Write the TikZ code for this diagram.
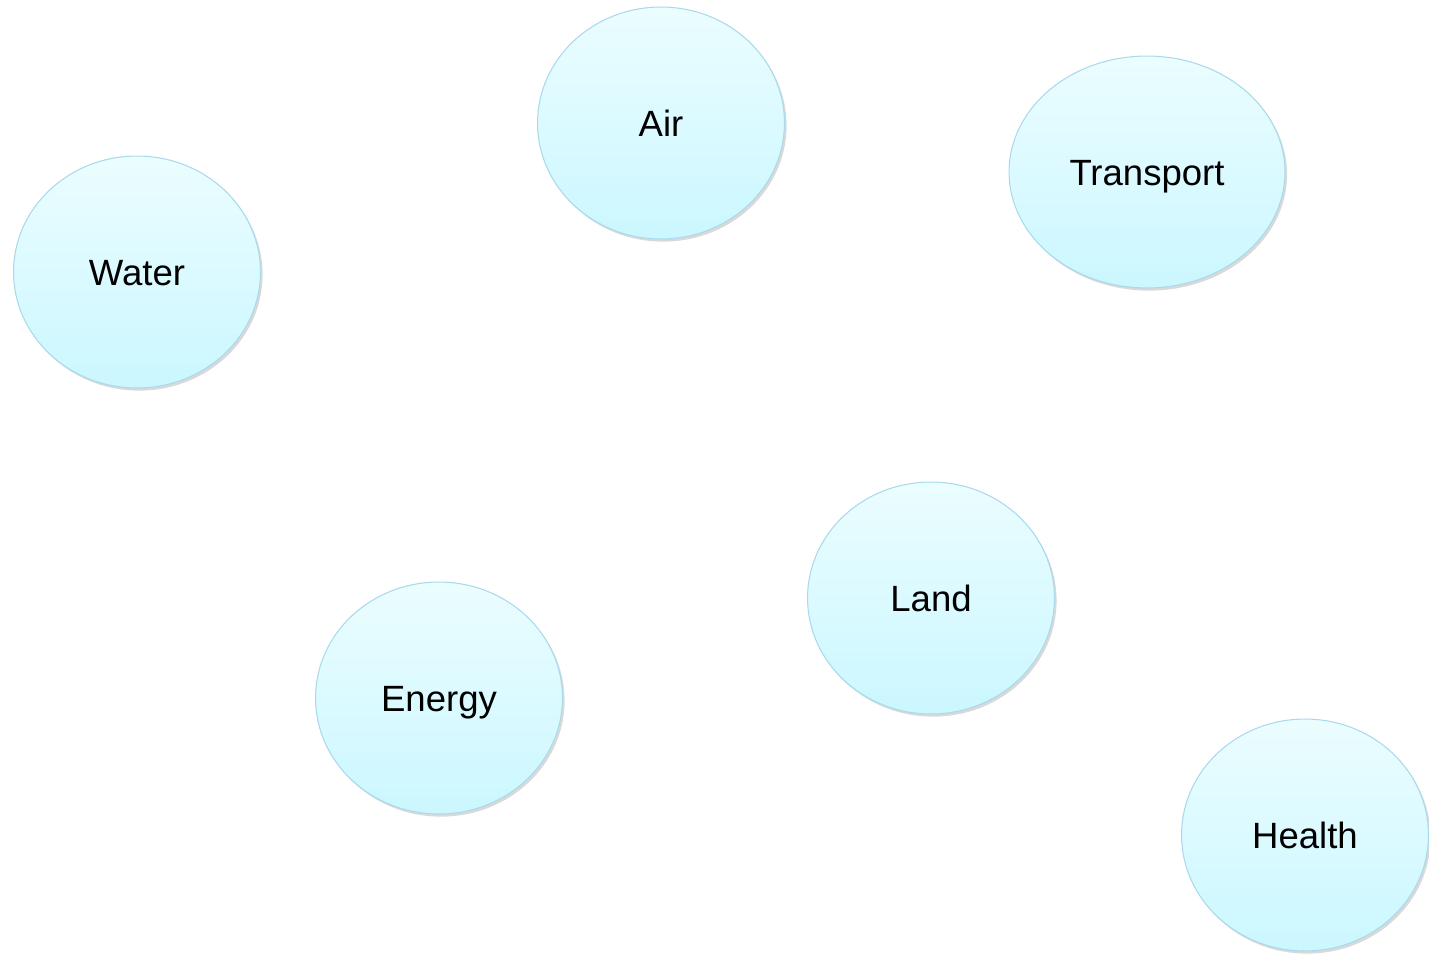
\documentclass[tikz,border=0pt]{standalone}
\usepackage{fontspec}
\setmainfont{Liberation Sans}
\usetikzlibrary{shapes.geometric,shadows,positioning}
\definecolor{bubbletop}{HTML}{EBFDFF}
\definecolor{bubblebottom}{HTML}{CBF7FF}
\definecolor{bubbleline}{HTML}{A9DAEC}

\begin{document}
\begin{tikzpicture}[x=0.02cm,y=-0.02cm]

\tikzset{topic/.style={ellipse, draw=bubbleline, line width=0.6pt,
    top color=bubbletop, bottom color=bubblebottom,
    drop shadow={shadow xshift=1.2pt, shadow yshift=-1.5pt, opacity=0.25, fill=black!60},
    minimum width=4.94cm, minimum height=4.64cm, inner sep=0pt,
    text height=14.9pt, text depth=0pt,
    font=\fontsize{20.8}{25}\selectfont},
  wide/.style={minimum width=5.52cm}}

\useasboundingbox (0,0) rectangle (1429,957);

\node[topic] (water) at (137,272) {Water};
\node[topic] (air) at (661,123) {Air};
\node[topic, wide] (transport) at (1147,172) {Transport};
\node[topic] (land) at (931,598) {Land};
\node[topic] (energy) at (439,698) {Energy};
\node[topic] (health) at (1305,835) {Health};

\end{tikzpicture}
\end{document}
